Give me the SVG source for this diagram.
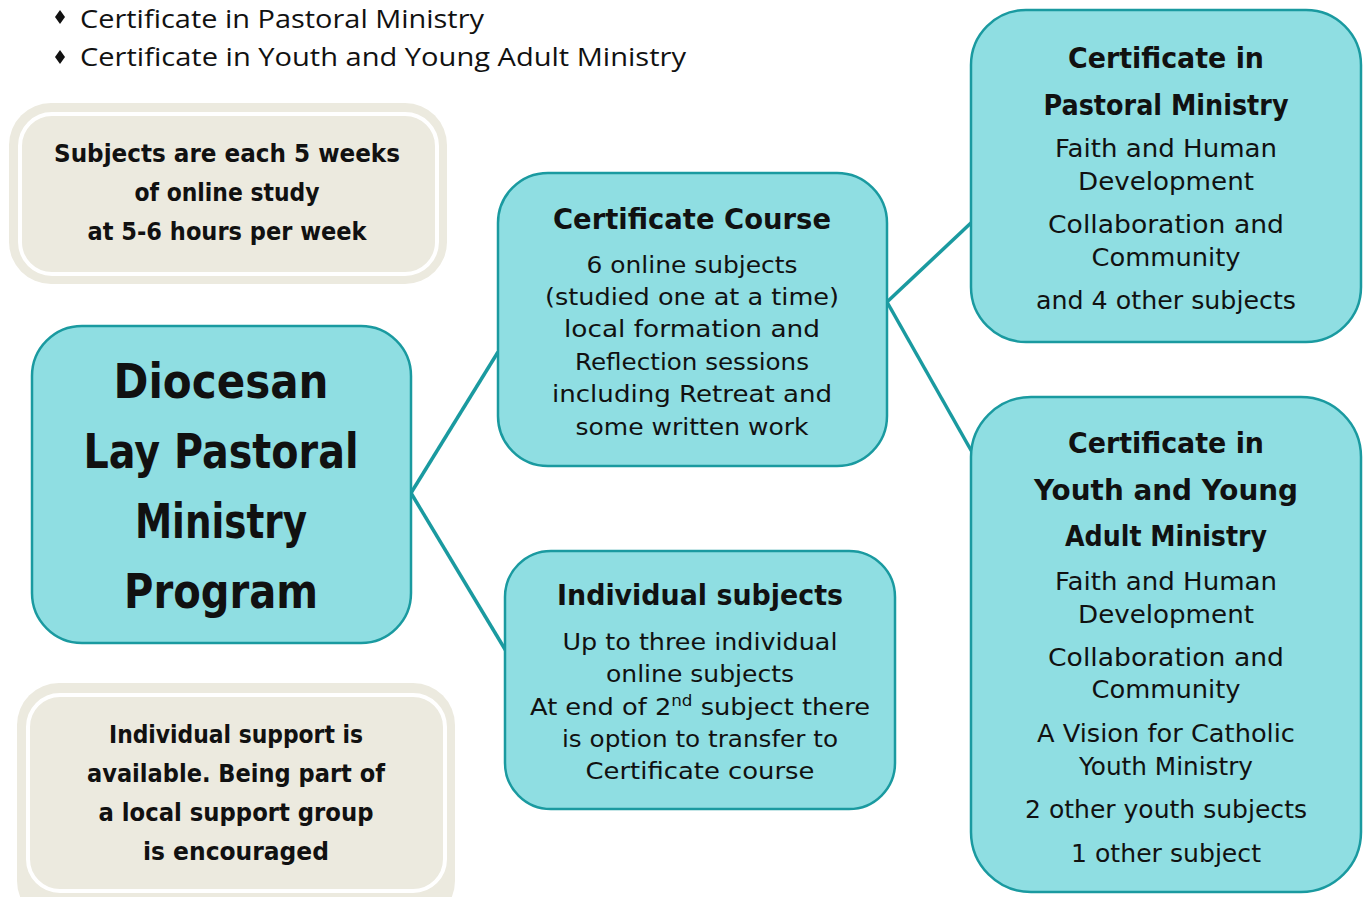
<svg xmlns="http://www.w3.org/2000/svg" width="1365" height="897" viewBox="0 0 1365 897">
<style>
.node{fill:#8FDEE2;stroke:#1A9AA0;stroke-width:2.5}
.beige{fill:#ECEADF}
.wline{fill:none;stroke:#FFFFFF;stroke-width:4}
.conn{stroke:#1A9AA0;stroke-width:3.5;fill:none}
text{font-family:"DejaVu Sans","Liberation Sans",sans-serif;fill:#111;text-anchor:middle}
.b{font-weight:bold}
.bul{font-family:"Open Sans","Noto Sans","Liberation Sans",sans-serif;text-anchor:start;font-size:26px}
.body{font-size:23px}
.rbody{font-size:25px}
.ttl{font-size:29px;font-weight:bold}
.big{font-size:48px;font-weight:bold}
.note{font-size:25px;font-weight:bold}
</style>
<rect width="1365" height="897" fill="#FFFFFF"/>
<g id="bullets">
<polygon points="60,10 65,17 60,24 55,17" fill="#111"/>
<text class="bul" x="80" y="28" textLength="404" lengthAdjust="spacingAndGlyphs">Certificate in Pastoral Ministry</text>
<polygon points="60,50 65,57 60,64 55,57" fill="#111"/>
<text class="bul" x="80" y="66" textLength="606" lengthAdjust="spacingAndGlyphs">Certificate in Youth and Young Adult Ministry</text>
</g>
<g id="connectors">
<line class="conn" x1="411" y1="493" x2="498" y2="352"/>
<line class="conn" x1="411" y1="493" x2="506" y2="651"/>
<line class="conn" x1="887" y1="302" x2="972" y2="222"/>
<line class="conn" x1="887" y1="302" x2="972" y2="452"/>
</g>
<g id="note-weeks">
<rect class="beige" x="9" y="103" width="438" height="181" rx="42"/>
<rect class="wline" x="20" y="114" width="417" height="160" rx="32"/>
<text class="note" x="227" y="162" textLength="346" lengthAdjust="spacingAndGlyphs">Subjects are each 5 weeks</text>
<text class="note" x="227" y="201" textLength="185" lengthAdjust="spacingAndGlyphs">of online study</text>
<text class="note" x="227" y="240" textLength="279" lengthAdjust="spacingAndGlyphs">at 5-6 hours per week</text>
</g>
<g id="note-support">
<rect class="beige" x="17" y="683" width="438" height="240" rx="42"/>
<rect class="wline" x="28" y="695" width="417" height="196" rx="32"/>
<text class="note" x="236" y="743" textLength="254" lengthAdjust="spacingAndGlyphs">Individual support is</text>
<text class="note" x="236" y="782" textLength="298" lengthAdjust="spacingAndGlyphs">available. Being part of</text>
<text class="note" x="236" y="821" textLength="275" lengthAdjust="spacingAndGlyphs">a local support group</text>
<text class="note" x="236" y="860" textLength="186" lengthAdjust="spacingAndGlyphs">is encouraged</text>
</g>
<g id="main">
<rect class="node" x="32" y="326" width="379" height="317" rx="50"/>
<text class="big" x="221" y="398" textLength="215" lengthAdjust="spacingAndGlyphs">Diocesan</text>
<text class="big" x="221" y="468" textLength="275" lengthAdjust="spacingAndGlyphs">Lay Pastoral</text>
<text class="big" x="221" y="538" textLength="172" lengthAdjust="spacingAndGlyphs">Ministry</text>
<text class="big" x="221" y="608" textLength="194" lengthAdjust="spacingAndGlyphs">Program</text>
</g>
<g id="certificate-course">
<rect class="node" x="498" y="173" width="389" height="293" rx="50"/>
<text class="ttl" x="692" y="229" textLength="278" lengthAdjust="spacingAndGlyphs">Certificate Course</text>
<text class="body" x="692" y="273" textLength="211" lengthAdjust="spacingAndGlyphs">6 online subjects</text>
<text class="body" x="692" y="305" textLength="294" lengthAdjust="spacingAndGlyphs">(studied one at a time)</text>
<text class="body" x="692" y="337" textLength="256" lengthAdjust="spacingAndGlyphs">local formation and</text>
<text class="body" x="692" y="370" textLength="234" lengthAdjust="spacingAndGlyphs">Reflection sessions</text>
<text class="body" x="692" y="402" textLength="280" lengthAdjust="spacingAndGlyphs">including Retreat and</text>
<text class="body" x="692" y="435" textLength="233" lengthAdjust="spacingAndGlyphs">some written work</text>
</g>
<g id="individual-subjects">
<rect class="node" x="505" y="551" width="390" height="258" rx="46"/>
<text class="ttl" x="700" y="605" textLength="286" lengthAdjust="spacingAndGlyphs">Individual subjects</text>
<text class="body" x="700" y="650" textLength="275" lengthAdjust="spacingAndGlyphs">Up to three individual</text>
<text class="body" x="700" y="682" textLength="188" lengthAdjust="spacingAndGlyphs">online subjects</text>
<text class="body" x="700" y="715" textLength="340" lengthAdjust="spacingAndGlyphs">At end of 2<tspan font-size="15" dy="-9">nd</tspan><tspan dy="9"> subject there</tspan></text>
<text class="body" x="700" y="747" textLength="276" lengthAdjust="spacingAndGlyphs">is option to transfer to</text>
<text class="body" x="700" y="779" textLength="229" lengthAdjust="spacingAndGlyphs">Certificate course</text>
</g>
<g id="cert-pastoral">
<rect class="node" x="971" y="10" width="390" height="332" rx="55"/>
<text class="ttl" x="1166" y="68" textLength="196" lengthAdjust="spacingAndGlyphs">Certificate in</text>
<text class="ttl" x="1166" y="115" textLength="245" lengthAdjust="spacingAndGlyphs">Pastoral Ministry</text>
<text class="rbody" x="1166" y="157" textLength="222" lengthAdjust="spacingAndGlyphs">Faith and Human</text>
<text class="rbody" x="1166" y="190" textLength="176" lengthAdjust="spacingAndGlyphs">Development</text>
<text class="rbody" x="1166" y="233" textLength="236" lengthAdjust="spacingAndGlyphs">Collaboration and</text>
<text class="rbody" x="1166" y="266" textLength="149" lengthAdjust="spacingAndGlyphs">Community</text>
<text class="rbody" x="1166" y="309" textLength="260" lengthAdjust="spacingAndGlyphs">and 4 other subjects</text>
</g>
<g id="cert-youth">
<rect class="node" x="971" y="397" width="390" height="495" rx="60"/>
<text class="ttl" x="1166" y="453" textLength="196" lengthAdjust="spacingAndGlyphs">Certificate in</text>
<text class="ttl" x="1166" y="500" textLength="264" lengthAdjust="spacingAndGlyphs">Youth and Young</text>
<text class="ttl" x="1166" y="546" textLength="202" lengthAdjust="spacingAndGlyphs">Adult Ministry</text>
<text class="rbody" x="1166" y="590" textLength="222" lengthAdjust="spacingAndGlyphs">Faith and Human</text>
<text class="rbody" x="1166" y="623" textLength="176" lengthAdjust="spacingAndGlyphs">Development</text>
<text class="rbody" x="1166" y="666" textLength="236" lengthAdjust="spacingAndGlyphs">Collaboration and</text>
<text class="rbody" x="1166" y="698" textLength="149" lengthAdjust="spacingAndGlyphs">Community</text>
<text class="rbody" x="1166" y="742" textLength="258" lengthAdjust="spacingAndGlyphs">A Vision for Catholic</text>
<text class="rbody" x="1166" y="775" textLength="174" lengthAdjust="spacingAndGlyphs">Youth Ministry</text>
<text class="rbody" x="1166" y="818" textLength="282" lengthAdjust="spacingAndGlyphs">2 other youth subjects</text>
<text class="rbody" x="1166" y="862" textLength="190" lengthAdjust="spacingAndGlyphs">1 other subject</text>
</g>
</svg>
